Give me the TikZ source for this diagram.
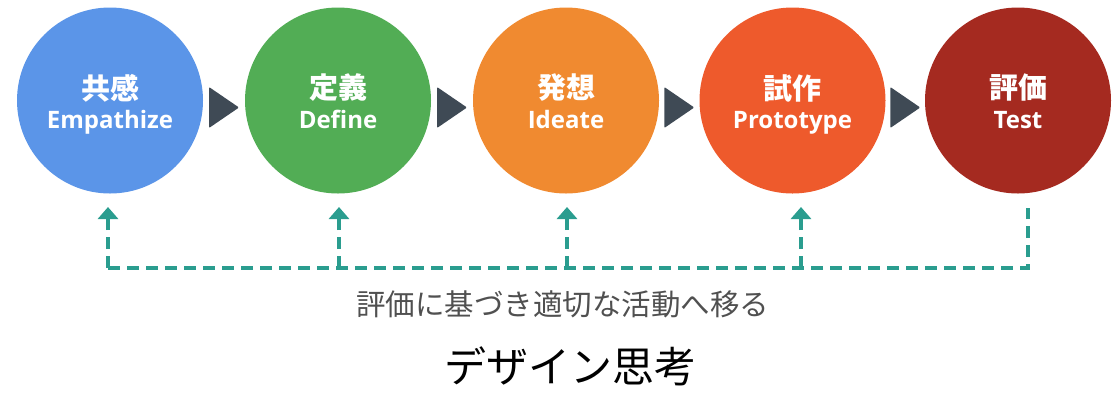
\documentclass[tikz,border=0pt]{standalone}
\usepackage{fontspec}
\setmainfont{Noto Sans CJK JP}
\newfontfamily\latfont{Open Sans}
\usetikzlibrary{arrows.meta,calc}
\definecolor{cblue}{HTML}{5B95E8}
\definecolor{cgreen}{HTML}{52AD55}
\definecolor{corange}{HTML}{F08A30}
\definecolor{cred}{HTML}{EE5A2C}
\definecolor{cdark}{HTML}{A52A20}
\definecolor{tri}{HTML}{3F4A55}
\definecolor{teal}{HTML}{2A9D8F}
\definecolor{note}{HTML}{505050}
\tikzset{
  stage/.style={circle,minimum size=186pt,inner sep=0pt},
  jlab/.style={text=white,inner sep=0pt,font=\fontsize{29}{32}\selectfont\bfseries},
  elab/.style={text=white,inner sep=0pt,anchor=base,font=\latfont\fontsize{24}{28}\selectfont\bfseries},
  fb/.style={draw=teal,line width=4pt,dash pattern=on 12pt off 7pt},
  fbarrow/.style={fb,-{Triangle[width=20pt,length=12pt]}},
}
\begin{document}
\begin{tikzpicture}[x=1pt,y=-1pt]
\useasboundingbox (0,0) rectangle (1116,392);
\node[stage,fill=cblue]   (c1) at (110,100.5)  {};
\node[stage,fill=cgreen]  (c2) at (338,100.5)  {};
\node[stage,fill=corange] (c3) at (566,100.5)  {};
\node[stage,fill=cred]    (c4) at (792.5,100.5){};
\node[stage,fill=cdark]   (c5) at (1018,100.5) {};
\foreach \c/\j/\e in {c1/共感/Empathize,c2/定義/Define,c3/発想/Ideate,c4/試作/Prototype,c5/評価/Test}{
  \node[jlab] (\c j) at ($(\c.center)+(0,-12.5)$) {\j};
  \node[elab] (\c e) at ($(\c.center)+(0,28)$) {\e};
}
\foreach \a/\b in {c1/c2,c2/c3,c3/c4,c4/c5}{
  \coordinate (m) at ($(\a.east)!0.5!(\b.west)+(0,7)$);
  \fill[tri,rounded corners=1pt] ($(m)+(-15,-20.5)$) -- ($(m)+(15,0)$) -- ($(m)+(-15,20.5)$) -- cycle;
}
\coordinate (b1) at (108,268);
\coordinate (b2) at (339,268);
\coordinate (b3) at (567,268);
\coordinate (b4) at (801,268);
\coordinate (b5) at (1028,268);
\coordinate (a1) at (108,207);
\coordinate (a2) at (339,207);
\coordinate (a3) at (567,207);
\coordinate (a4) at (801,207);
\coordinate (e5) at (1028,208);
\draw[fb] (b1) -- (b5) -- (e5);
\foreach \i in {1,2,3,4}{ \draw[fbarrow] (b\i) -- (a\i); }
\node[text=note,font=\fontsize{29.5}{32}\selectfont] (t1) at (562.5,304) {評価に基づき適切な活動へ移る};
\node[text=black,font=\fontsize{42}{46}\selectfont] (t2) at (570,366) {デザイン思考};
\end{tikzpicture}
\end{document}
